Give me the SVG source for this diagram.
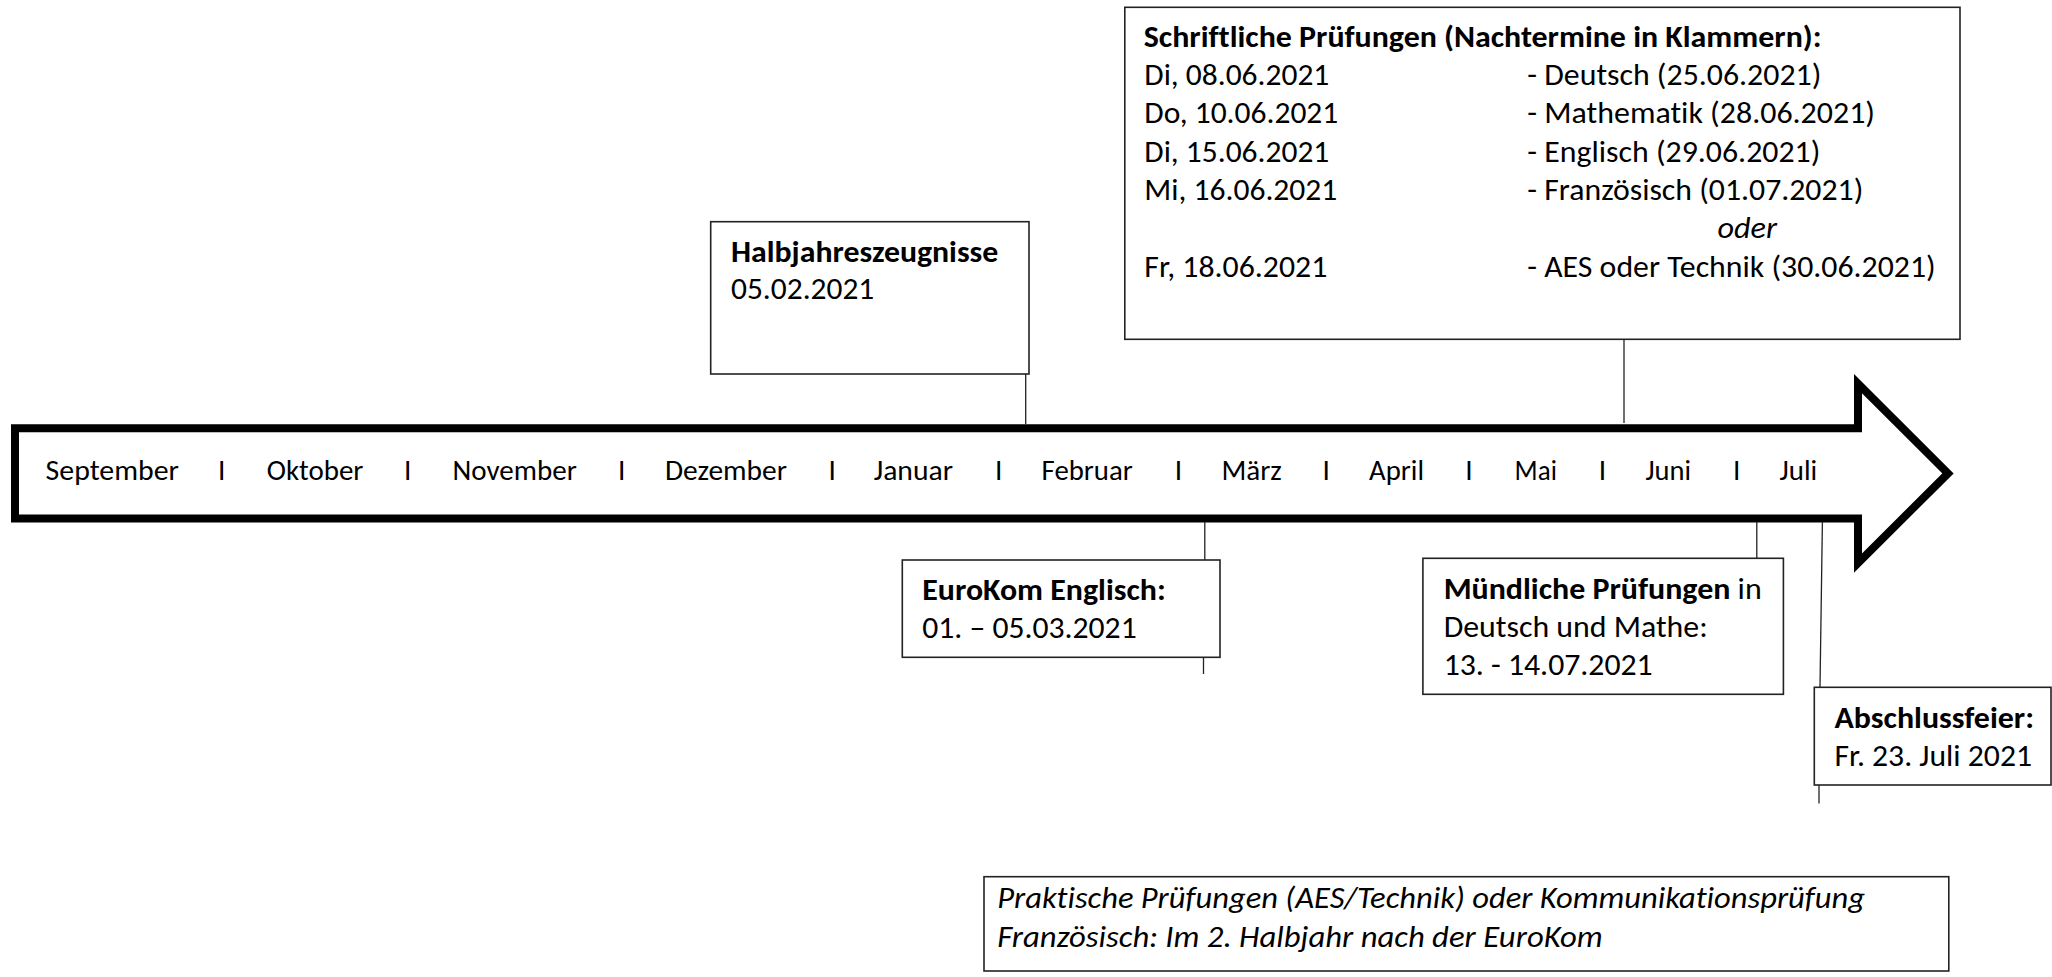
<svg xmlns="http://www.w3.org/2000/svg" width="2052" height="977" viewBox="0 0 2052 977">
<style>
text { font-family: Carlito, Calibri, Lato, "Open Sans", sans-serif; font-size: 31px; fill: #000; font-variant-ligatures: none; }
.m { font-size: 29.3px; }
.b { font-weight: bold; }
.i { font-style: italic; }
.box { fill: #fff; stroke: #222; stroke-width: 1.6; }
.con { stroke: #222; stroke-width: 1.3; fill: none; }
.arrow { fill: #fff; stroke: #000; stroke-width: 8; stroke-linejoin: miter; stroke-miterlimit: 10; }
</style>
<rect width="2052" height="977" fill="#fff"/>

<g id="timeline-arrow">
  <polygon class="arrow" points="15,428.3 1858,428.3 1858,383.7 1948,473.4 1858,563 1858,518.5 15,518.5"/>
  <text class="m" y="480">
    <tspan x="45.6" textLength="133.4" lengthAdjust="spacingAndGlyphs">September</tspan>
    <tspan x="218">I</tspan>
    <tspan x="266.7" textLength="96.8" lengthAdjust="spacingAndGlyphs">Oktober</tspan>
    <tspan x="404">I</tspan>
    <tspan x="452.6" textLength="124.2" lengthAdjust="spacingAndGlyphs">November</tspan>
    <tspan x="618">I</tspan>
    <tspan x="665" textLength="122" lengthAdjust="spacingAndGlyphs">Dezember</tspan>
    <tspan x="828.6">I</tspan>
    <tspan x="873.7" textLength="79.3" lengthAdjust="spacingAndGlyphs">Januar</tspan>
    <tspan x="995">I</tspan>
    <tspan x="1041.6" textLength="91.2" lengthAdjust="spacingAndGlyphs">Februar</tspan>
    <tspan x="1174.8">I</tspan>
    <tspan x="1221.4" textLength="60.4" lengthAdjust="spacingAndGlyphs">März</tspan>
    <tspan x="1322.4">I</tspan>
    <tspan x="1369" textLength="55" lengthAdjust="spacingAndGlyphs">April</tspan>
    <tspan x="1465.3">I</tspan>
    <tspan x="1514.6" textLength="42.3" lengthAdjust="spacingAndGlyphs">Mai</tspan>
    <tspan x="1598.8">I</tspan>
    <tspan x="1645.4" textLength="45.6" lengthAdjust="spacingAndGlyphs">Juni</tspan>
    <tspan x="1733">I</tspan>
    <tspan x="1779.6" textLength="37.6" lengthAdjust="spacingAndGlyphs">Juli</tspan>
  </text>
</g>

<g id="connectors">
  <line class="con" x1="1025.7" y1="374" x2="1025.7" y2="424"/>
  <line class="con" x1="1624" y1="339" x2="1624" y2="423"/>
  <line class="con" x1="1204.8" y1="522" x2="1204.8" y2="560"/>
  <line class="con" x1="1203.5" y1="657.3" x2="1203.5" y2="674"/>
  <line class="con" x1="1756.8" y1="522" x2="1756.8" y2="558.3"/>
  <line class="con" x1="1822.4" y1="522" x2="1820" y2="687.3"/>
  <line class="con" x1="1819" y1="785" x2="1819" y2="803.5"/>
</g>

<g id="node-schriftlich">
  <rect class="box" x="1124.8" y="7.3" width="835.2" height="332"/>
  <text class="b" x="1143.8" y="46.7" textLength="677.7" lengthAdjust="spacingAndGlyphs">Schriftliche Prüfungen (Nachtermine in Klammern):</text>
  <text x="1144.3" y="85" textLength="185" lengthAdjust="spacingAndGlyphs">Di, 08.06.2021</text>
  <text x="1144.3" y="123.3" textLength="194" lengthAdjust="spacingAndGlyphs">Do, 10.06.2021</text>
  <text x="1144.3" y="161.6" textLength="185" lengthAdjust="spacingAndGlyphs">Di, 15.06.2021</text>
  <text x="1144.3" y="199.9" textLength="193" lengthAdjust="spacingAndGlyphs">Mi, 16.06.2021</text>
  <text x="1144.3" y="276.5" textLength="183" lengthAdjust="spacingAndGlyphs">Fr, 18.06.2021</text>
  <text x="1527.3" y="85" textLength="294" lengthAdjust="spacingAndGlyphs">- Deutsch (25.06.2021)</text>
  <text x="1527.3" y="123.3" textLength="347.7" lengthAdjust="spacingAndGlyphs">- Mathematik (28.06.2021)</text>
  <text x="1527.3" y="161.6" textLength="293" lengthAdjust="spacingAndGlyphs">- Englisch (29.06.2021)</text>
  <text x="1527.3" y="199.9" textLength="336" lengthAdjust="spacingAndGlyphs">- Französisch (01.07.2021)</text>
  <text class="i" x="1717.5" y="238.2" textLength="59.5" lengthAdjust="spacingAndGlyphs">oder</text>
  <text x="1527.3" y="276.5" textLength="408.4" lengthAdjust="spacingAndGlyphs">- AES oder Technik (30.06.2021)</text>
</g>

<g id="node-halbjahr">
  <rect class="box" x="710.7" y="221.7" width="318.3" height="152.3"/>
  <text class="b" x="731" y="261.7" textLength="267.3" lengthAdjust="spacingAndGlyphs">Halbjahreszeugnisse</text>
  <text x="731" y="299" textLength="143.3" lengthAdjust="spacingAndGlyphs">05.02.2021</text>
</g>

<g id="node-eurokom">
  <rect class="box" x="902.3" y="560" width="317.7" height="97.3"/>
  <text class="b" x="922.3" y="600" textLength="243.4" lengthAdjust="spacingAndGlyphs">EuroKom Englisch:</text>
  <text x="922.3" y="638.3" textLength="214.4" lengthAdjust="spacingAndGlyphs">01. – 05.03.2021</text>
</g>

<g id="node-muendlich">
  <rect class="box" x="1422.9" y="558.3" width="360.5" height="136"/>
  <text x="1443.7" y="599" textLength="318" lengthAdjust="spacingAndGlyphs"><tspan class="b">Mündliche Prüfungen</tspan> in</text>
  <text x="1443.7" y="636.7" textLength="264" lengthAdjust="spacingAndGlyphs">Deutsch und Mathe:</text>
  <text x="1443.7" y="675" textLength="209" lengthAdjust="spacingAndGlyphs">13. - 14.07.2021</text>
</g>

<g id="node-abschluss">
  <rect class="box" x="1814.3" y="687.3" width="236.7" height="97.7"/>
  <text class="b" x="1834.5" y="727.7" textLength="199.5" lengthAdjust="spacingAndGlyphs">Abschlussfeier:</text>
  <text x="1834.5" y="765.7" textLength="197.5" lengthAdjust="spacingAndGlyphs">Fr. 23. Juli 2021</text>
</g>

<g id="node-praktisch">
  <rect class="box" x="984" y="876.7" width="964.8" height="94.3"/>
  <text class="i" x="997.2" y="908.3" textLength="867.8" lengthAdjust="spacingAndGlyphs">Praktische Prüfungen (AES/Technik) oder Kommunikationsprüfung</text>
  <text class="i" x="997.2" y="946.7" textLength="605.5" lengthAdjust="spacingAndGlyphs">Französisch: Im 2. Halbjahr nach der EuroKom</text>
</g>
</svg>
